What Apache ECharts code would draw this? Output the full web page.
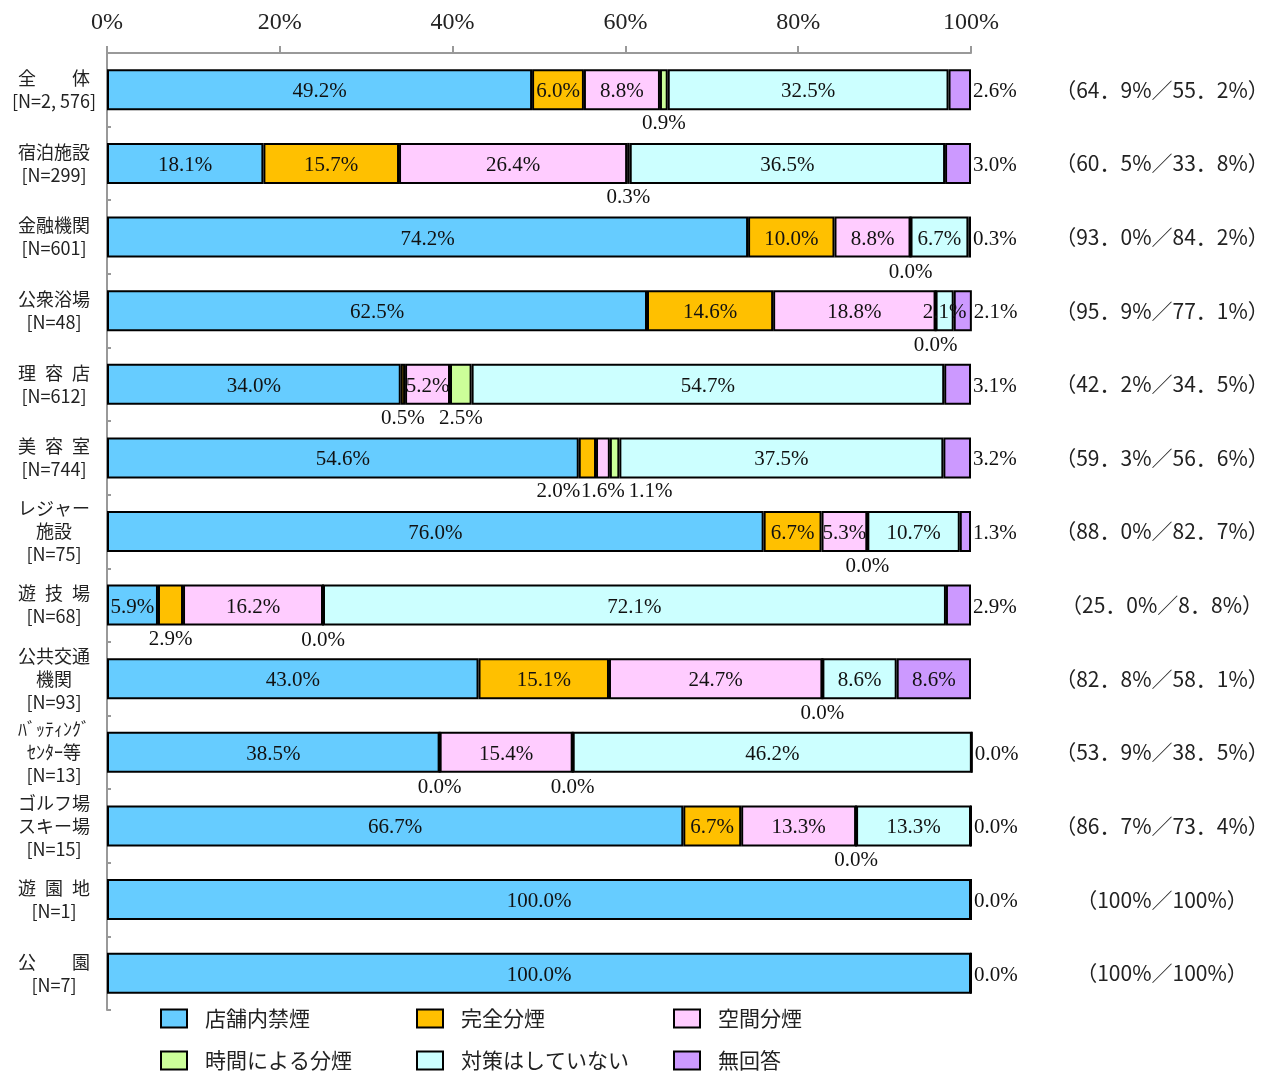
<!DOCTYPE html>
<html lang="ja">
<head>
<meta charset="UTF-8">
<title>受動喫煙対策の状況</title>
<script src="https://cdn.jsdelivr.net/npm/echarts@6/dist/echarts.min.js"></script>
<style>
  html, body { margin: 0; padding: 0; background: #fff; }
  #main { width: 1270px; height: 1077px; }
</style>
</head>
<body>
<div id="main"></div>
<script>
// 業種（上から順）
var categories = [
  '全　　体\n[N=2, 576]', '宿泊施設\n[N=299]', '金融機関\n[N=601]', '公衆浴場\n[N=48]',
  '理\u2002容\u2002店\n[N=612]', '美\u2002容\u2002室\n[N=744]', 'レジャー\n施設\n[N=75]',
  '遊\u2002技\u2002場\n[N=68]', '公共交通\n機関\n[N=93]', 'ﾊﾞｯﾃｨﾝｸﾞ\nｾﾝﾀｰ等\n[N=13]',
  'ゴルフ場\nスキー場\n[N=15]', '遊\u2002園\u2002地\n[N=1]', '公　　園\n[N=7]'
];
// 右側の注記
var notes = [
  '（64．9%／55．2%）', '（60．5%／33．8%）', '（93．0%／84．2%）', '（95．9%／77．1%）',
  '（42．2%／34．5%）', '（59．3%／56．6%）', '（88．0%／82．7%）', '（25．0%／8．8%）',
  '（82．8%／58．1%）', '（53．9%／38．5%）', '（86．7%／73．4%）', '（100%／100%）', '（100%／100%）'
];
var seriesNames = ['店舗内禁煙', '完全分煙', '空間分煙', '時間による分煙', '対策はしていない', '無回答'];
var kinen    = [49.2, 18.1, 74.2, 62.5, 34.0, 54.6, 76.0, 5.9, 43.0, 38.5, 66.7, 100.0, 100.0];
var kanzen   = [6.0, 15.7, 10.0, 14.6, 0.5, 2.0, 6.7, 2.9, 15.1, 0.0, 6.7, null, null];
var kukan    = [8.8, 26.4, 8.8, 18.8, 5.2, 1.6, 5.3, 16.2, 24.7, 15.4, 13.3, null, null];
var jikan    = [0.9, 0.3, 0.0, 0.0, 2.5, 1.1, 0.0, 0.0, 0.0, 0.0, 0.0, null, null];
var taisaku  = [32.5, 36.5, 6.7, 2.1, 54.7, 37.5, 10.7, 72.1, 8.6, 46.2, 13.3, null, null];
var mukaitou = [2.6, 3.0, 0.3, 2.1, 3.1, 3.2, 1.3, 2.9, 8.6, 0.0, 0.0, 0.0, 0.0];
var values = [kinen, kanzen, kukan, jikan, taisaku, mukaitou];

var colors = ['#66CCFF', '#FFC000', '#FFCCFF', '#CCFF99', '#CCFFFF', '#CC99FF'];

// ラベル位置の個別調整（系列,行）
var labelOverride = {
  '4,3': { position: 'inside' },
  '1,5': { dx: -29 },
  '3,5': { dx: 36 }
};

var serif = '"Liberation Serif", "DejaVu Serif", serif';
var gothic = '"Noto Sans CJK JP", sans-serif';

var series = values.map(function (arr, si) {
  return {
    name: seriesNames[si],
    type: 'bar',
    stack: 'total',
    barWidth: 41,
    clip: false,
    itemStyle: { color: colors[si], borderColor: '#000', borderWidth: 2 },
    data: arr.map(function (v, ri) {
      if (v === null) return null;
      var ov = labelOverride[si + ',' + ri] || {};
      var pos;
      if (v >= 5) pos = 'inside';
      else pos = (si === 5) ? 'right' : 'bottom';
      if (ov.position) pos = ov.position;
      return {
        value: v,
        label: {
          show: true,
          position: pos,
          distance: pos === 'right' ? 2 : 3,
          offset: [ov.dx || 0, pos === 'bottom' ? 0 : 2],
          formatter: v.toFixed(1) + '%'
        }
      };
    }),
    label: {
      fontFamily: serif,
      fontSize: 21,
      color: '#111'
    }
  };
});

var chart = echarts.init(document.getElementById('main'));
chart.setOption({
  animation: false,
  backgroundColor: '#fff',
  grid: { left: 107, right: 299, top: 53, bottom: 67, outerBoundsMode: 'none' },
  xAxis: {
    type: 'value',
    position: 'top',
    min: 0,
    max: 100,
    interval: 20,
    axisLine: { show: true, lineStyle: { color: '#999', width: 2 } },
    axisTick: { show: true, length: 7, lineStyle: { color: '#999', width: 2 } },
    splitLine: { show: false },
    axisLabel: { formatter: '{value}%', fontFamily: serif, fontSize: 24, color: '#222', margin: 18 }
  },
  yAxis: [{
    type: 'category',
    data: categories,
    inverse: true,
    axisLine: { show: true, lineStyle: { color: '#999', width: 2 } },
    axisTick: { show: true, inside: true, length: 4, interval: 0, lineStyle: { color: '#999', width: 2 } },
    axisLabel: {
      interval: 0,
      align: 'center',
      margin: 53,
      fontFamily: gothic,
      fontSize: 18,
      lineHeight: 23,
      color: '#222'
    }
  }, {
    type: 'category',
    data: notes,
    inverse: true,
    position: 'right',
    axisLine: { show: false },
    axisTick: { show: false },
    axisLabel: {
      interval: 0,
      align: 'center',
      margin: 191,
      fontFamily: gothic,
      fontSize: 21,
      color: '#222'
    }
  }],
  legend: [
    { data: [seriesNames[0], seriesNames[3]], left: 160 },
    { data: [seriesNames[1], seriesNames[4]], left: 416 },
    { data: [seriesNames[2], seriesNames[5]], left: 673 }
  ].map(function (l) {
    return Object.assign({
      orient: 'vertical',
      top: 1008,
      padding: 0,
      itemWidth: 26,
      itemHeight: 18,
      itemGap: 21,
      icon: 'rect',
      itemStyle: { borderColor: '#000', borderWidth: 2 },
      textStyle: { fontFamily: gothic, fontSize: 21, color: '#222', padding: [0, 0, 0, 13] }
    }, l);
  }),
  series: series
});
</script>
</body>
</html>
